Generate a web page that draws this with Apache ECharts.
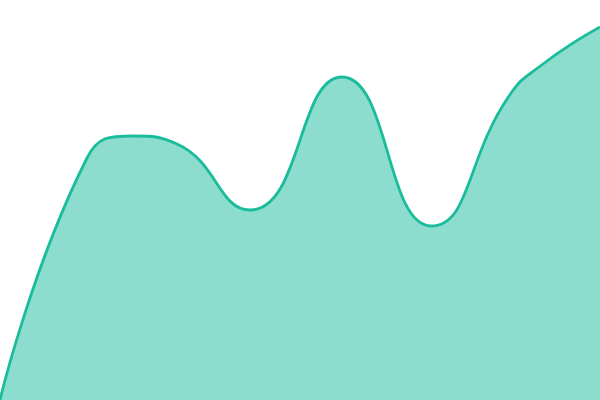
<!DOCTYPE html>
<html>
<head>
<meta charset="utf-8">
<script src="https://cdn.jsdelivr.net/npm/echarts@6/dist/echarts.min.js"></script>
<style>
  html, body { margin: 0; padding: 0; background: #fff; }
  #chart { width: 600px; height: 400px; }
</style>
</head>
<body>
<div id="chart"></div>
<script>
// points (x position, value)
const xs = [0, 87, 133, 177, 250, 342, 431, 509, 543, 600];
const values = [0, 242, 264, 256, 190, 323, 174, 304, 336, 373];

const lineColor = "#1abc9c";

const seriesData = xs.map((x, i) => [x, values[i]]);

const chart = echarts.init(document.getElementById("chart"));
chart.setOption({
  animation: false,
  grid: { left: 0, right: 0, top: 0, bottom: 0 },
  xAxis: {
    type: "value",
    min: 0,
    max: 600,
    show: false,
  },
  yAxis: {
    type: "value",
    min: 0,
    max: 400,
    show: false,
  },
  series: [
    {
      type: "line",
      data: seriesData,
      smooth: true,
      showSymbol: false,
      lineStyle: { color: lineColor, width: 2.8 },
      itemStyle: { color: lineColor },
      areaStyle: { color: lineColor, opacity: 0.5 },
    },
  ],
});
</script>
</body>
</html>
